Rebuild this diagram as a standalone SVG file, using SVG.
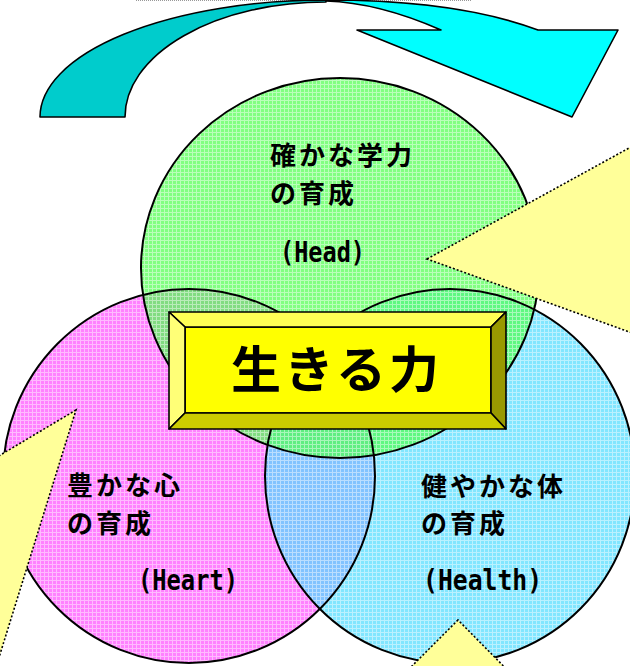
<svg xmlns="http://www.w3.org/2000/svg" width="630" height="666" viewBox="0 0 630 666">
<style>
.fillc{fill-opacity:0.72;stroke:none}
.ring{fill:none;stroke:#000;stroke-width:2}
.jp{font-family:"Noto Sans CJK JP","Noto Sans CJK SC",sans-serif;font-weight:700;font-size:26px;letter-spacing:3px;fill:#000}
.en{font-family:"DejaVu Sans Mono","Liberation Mono",monospace;font-weight:700;font-size:28px;fill:#000}
.tri{fill:#ffff99;stroke:#000;stroke-width:1.6;stroke-dasharray:2 2}
.edge{stroke:#000;stroke-width:1.6;stroke-linejoin:round}
</style>
<defs>
<pattern id="pg" width="4" height="4" patternUnits="userSpaceOnUse"><rect width="4" height="4" fill="#50ff50"/><path d="M0,0.5H4M0.5,0V4" stroke="#fff" stroke-width="1" opacity="0.45"/></pattern>
<pattern id="pp" width="4" height="4" patternUnits="userSpaceOnUse"><rect width="4" height="4" fill="#ff50ff"/><path d="M0,0.5H4M0.5,0V4" stroke="#fff" stroke-width="1" opacity="0.45"/></pattern>
<pattern id="pb" width="4" height="4" patternUnits="userSpaceOnUse"><rect width="4" height="4" fill="#50dcff"/><path d="M0,0.5H4M0.5,0V4" stroke="#fff" stroke-width="1" opacity="0.45"/></pattern>
</defs>
<line x1="136" y1="0.5" x2="472" y2="0.5" stroke="#999" stroke-width="1" stroke-dasharray="1 1"/>
<g id="node-heart">
<ellipse class="fillc" cx="189" cy="476" rx="186" ry="187" fill="url(#pp)"/>
<text class="jp" x="67" y="495">豊かな心</text>
<text class="jp" x="67" y="533">の育成</text>
<text class="en" x="138" y="590" textLength="100" lengthAdjust="spacingAndGlyphs">(Heart)</text>
</g>
<g id="node-health">
<ellipse class="fillc" cx="450" cy="476" rx="185" ry="187" fill="url(#pb)"/>
<text class="jp" x="421" y="496">健やかな体</text>
<text class="jp" x="421" y="533">の育成</text>
<text class="en" x="423" y="590" textLength="119" lengthAdjust="spacingAndGlyphs">(Health)</text>
</g>
<g id="node-head">
<ellipse class="fillc" cx="340" cy="268" rx="199" ry="190" fill="url(#pg)"/>
<text class="jp" x="270" y="165">確かな学力</text>
<text class="jp" x="270" y="203">の育成</text>
<text class="en" x="280" y="262" textLength="85" lengthAdjust="spacingAndGlyphs">(Head)</text>
</g>
<g id="outlines">
<ellipse class="ring" cx="189" cy="476" rx="186" ry="187"/>
<ellipse class="ring" cx="450" cy="476" rx="185" ry="187"/>
<ellipse class="ring" cx="340" cy="268" rx="199" ry="190"/>
</g>
<g id="connectors">
<polygon class="tri" points="427,259 660,131 660,343"/>
<polygon class="tri" points="76,410 -40,479 -13,696"/>
<polygon class="tri" points="458,620 378,700 537,700"/>
<path class="edge" fill="#00cccc" d="M40,117 A286,117 0 0 1 326,0 L326,2 A201,115 0 0 0 125,117 Z"/>
<path class="edge" fill="#00ffff" d="M326,0 C420,0 490,12 538,30 L618,30 L572,117 L357,30 L441,30 C400,12 360,2 326,1 Z"/>
</g>
<g id="node-center">
<polygon class="edge" fill="#ffff00" points="185,327 491,327 491,413 185,413"/>
<polygon class="edge" fill="#ffff55" points="169,312 506,312 491,327 185,327"/>
<polygon class="edge" fill="#ffff77" points="169,312 185,327 185,413 169,429"/>
<polygon class="edge" fill="#999900" points="506,312 506,429 491,413 491,327"/>
<polygon class="edge" fill="#cccc00" points="169,429 506,429 491,413 185,413"/>
<text x="231" y="388" font-family="'Noto Sans CJK JP','Noto Sans CJK SC',sans-serif" font-weight="700" font-size="50" letter-spacing="3" fill="#000">生きる力</text>
</g>
</svg>
